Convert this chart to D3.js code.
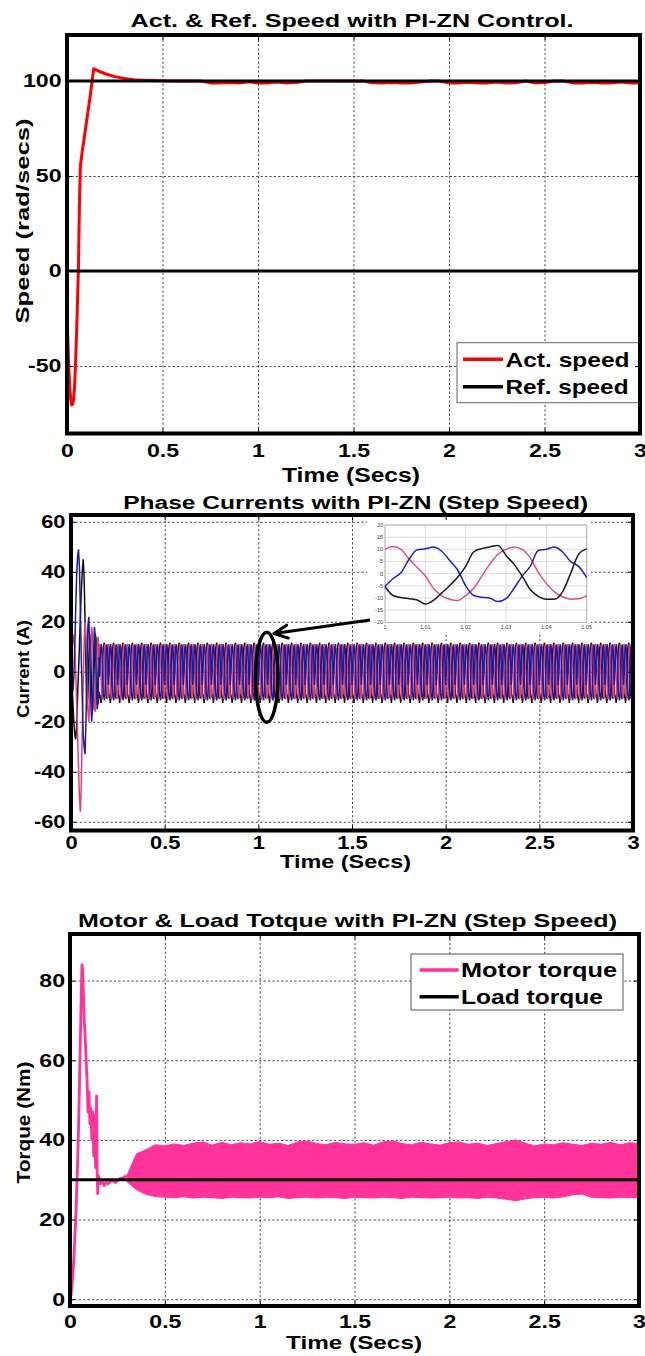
<!DOCTYPE html>
<html><head><meta charset="utf-8">
<script src="https://cdn.jsdelivr.net/npm/d3@7"></script>
<style>
body{margin:0;background:#fff}
svg{display:block}
text{font-family:"Liberation Sans",Arial,Helvetica,sans-serif}
</style>
</head><body>
<svg id="c" width="645" height="1356"></svg>
<script>
// ---------------- DATA ----------------
const timeTicks = [0, 0.5, 1, 1.5, 2, 2.5, 3];
const timeTickLabels = ['0', '0.5', '1', '1.5', '2', '2.5', '3'];

const speedTicks = [-50, 0, 50, 100];
const speedTickLabels = ['-50', '0', '50', '100'];
const currentTicks = [-60, -40, -20, 0, 20, 40, 60];
const currentTickLabels = ['-60', '-40', '-20', '0', '20', '40', '60'];
const torqueTicks = [0, 20, 40, 60, 80];
const torqueTickLabels = ['0', '20', '40', '60', '80'];

// Panel 1: speed
const actSpeedT = [0,0.005,0.01,0.015,0.02,0.025,0.03,0.035,0.04,0.045,0.05,0.055,0.06,0.065,0.07,
  0.08,0.09,0.1,0.11,0.12,0.13,0.14,0.15,
  0.17,0.2,0.25,0.3,0.35,0.4,0.45,0.5,0.55,
  0.6,0.65,0.7,0.75,0.8,0.85,0.9,0.95,1.0,1.05,1.1,1.15,1.2,1.25,1.3,1.35,1.4,1.45,1.5,1.55,
  1.6,1.65,1.7,1.75,1.8,1.85,1.9,1.95,2.0,2.05,2.1,2.15,2.2,2.25,2.3,2.35,2.4,2.45,2.5,2.55,
  2.6,2.65,2.7,2.75,2.8,2.85,2.9,2.95,3.0];
const actSpeedV = [-22,-38,-52,-62,-68,-70.5,-70,-67,-60,-48,-33,-16,2,35,55,
  63,70,77,84,91,99,106.5,106,
  105,103.8,102.3,101.3,100.7,100.4,100.2,100.1,100,
  100,100,100,99,98.9,99.2,98.9,99.6,98.9,99,99.5,98.9,99.2,100,100,100,100,100,100,100,
  99.1,98.9,99.2,98.9,99,99.4,100,100,99,98.9,99.3,98.9,99,99.4,98.9,99.1,100,99,99.2,100,
  100,99,98.9,99.3,98.9,99,99.4,98.9,99];
const refSpeedLevels = [100, 0];
const speedLegend = ['Act. speed', 'Ref. speed'];

// Panel 2: phase currents (transient part, 0 .. 0.15 s)
const currTransT = [0,0.005,0.01,0.015,0.02,0.025,0.03,0.035,0.04,0.045,0.05,0.055,0.06,0.065,0.07,0.075,
  0.08,0.085,0.09,0.095,0.1,0.105,0.11,0.115,0.12,0.125,0.13,0.135,0.14,0.145,0.15];
const iaTrans = [0,6,12,15,10,0,-12,-25,-38,-50,-56,-45,-25,-5,12,20,15,0,-15,-20,-12,5,18,15,0,-15,-16,-2,12,14,0];
const ibTrans = [0,-4,-8,-2,10,25,38,46,49,42,25,5,-10,-25,-30,-33,-20,0,18,22,10,-10,-20,-15,5,18,14,-6,-15,-11,6];
const icTrans = [0,-5,-12,-20,-25,-27,-22,-10,0,10,22,32,40,45,38,20,0,-15,-10,5,15,10,-8,-15,-10,5,15,12,-5,-13,-8];

// Steady-state window (1.00 .. 1.05 s)
const insetT = [1.000,1.002,1.004,1.006,1.008,1.010,1.012,1.014,1.016,1.018,1.020,1.022,1.024,1.026,
  1.028,1.030,1.032,1.034,1.036,1.038,1.040,1.042,1.044,1.046,1.048,1.050];
const iaInset = [10,11.2,10,6,2.5,-1,-6,-9,-10.5,-11,-9,-6,-1,4,8,10,11,10,6.5,0.5,-4,-7.5,-9.5,-10.5,-10.3,-9];
const ibInset = [-5.3,-2,0.5,6,9.8,10.2,11,9.3,5.5,1.5,-5,-9,-9.7,-10.1,-11.5,-10.3,-6,-1,3,9.5,10,11,9,5,3,-1.6];
const icInset = [-5.3,-9,-9.8,-10.3,-10.8,-12.5,-11,-8,-5,-1.5,3,9,10.3,11,11.6,7.5,3.8,-1,-6.5,-9.3,-10.5,-10.5,-7.5,0,8,10.2];
const insetTimeTicks = [1, 1.01, 1.02, 1.03, 1.04, 1.05];
const insetTimeLabels = ['1', '1.01', '1.02', '1.03', '1.04', '1.05'];
const insetCurrentTicks = [-20,-15,-10,-5,0,5,10,15,20];
const insetCurrentLabels = ['-20','-15','-10','-5','0','5','10','15','20'];
// annotation (ellipse around t~1.05 s, arrow to inset) in data units
const markT = 1.045, markV = -2.2, markDT = 0.06, markDV = 18;
const arrowFrom = [1.596, 20.7], arrowTo = [1.084, 15.3];

// Panel 3: torque
const motorT = [0,0.005,0.01,0.015,0.02,0.025,0.03,0.035,0.04,0.045,0.05,0.055,0.06,0.063,0.066,0.07,0.075,0.08,0.085,0.09,
  0.095,0.1,0.105,0.11,0.115,0.12,0.125,0.13,0.135,0.14,0.143,0.146,0.15,0.16,0.17,0.18,0.19,0.2,0.22,0.24,0.26,0.28,0.3];
const motorV = [0,1,3,6,10,15,20,27,34,43,54,66,78,84,83,78,70,66,60,55,
  47,52,44,48,40,47,36,46,33,51,32,26.5,31,29,29.5,28.5,29.5,29,29.8,29.3,30.2,30.5,31];
const bandT = [0.3,0.35,0.4,0.45,0.5,0.55,0.6,0.65,0.7,0.75,0.8,0.85,0.9,0.95,1.0,1.05,1.1,1.15,1.2,1.25,
  1.3,1.35,1.4,1.45,1.5,1.55,1.6,1.65,1.7,1.75,1.8,1.85,1.9,1.95,2.0,2.05,2.1,2.15,2.2,2.25,
  2.3,2.35,2.4,2.45,2.5,2.55,2.6,2.65,2.7,2.75,2.8,2.85,2.9,2.95,3.0];
const bandUpper = [31,36.5,37.5,38.8,38.5,39,38.6,39.2,39.5,38.7,39.4,38.8,39.3,39,39.6,38.9,39.2,38.6,39.5,39.7,
  39.1,38.8,39.4,39,38.9,39.3,38.7,39.5,39.8,39.1,38.8,39.4,39,38.7,39.3,39.5,38.9,39.2,38.6,39.1,
  39.6,40,39.2,38.5,39,38.8,39.3,38.9,38.6,39.2,38.9,39.4,38.8,39.3,39.1];
const bandLower = [29.5,27.5,26.3,25.8,25.6,25.5,25.7,25.4,25.6,25.5,25.3,25.6,25.5,25.4,25.6,25.5,25.7,25.3,25.5,25.6,
  25.4,25.6,25.5,25.3,25.6,25.5,25.4,25.6,25.5,25.3,25.6,25.5,25.4,25.5,25.6,25.4,25.5,25.3,25.6,25.4,
  25.1,24.7,25.2,25.5,25.6,25.4,25.7,26.2,26.4,25.6,25.5,25.4,25.6,25.5,25.5];
const loadTorque = 30;
const torqueLegend = ['Motor torque', 'Load torque'];

const titles = ['Act. & Ref. Speed with PI-ZN Control.', 'Phase Currents with PI-ZN (Step Speed)', 'Motor & Load Totque with PI-ZN (Step Speed)'];
const yTitles = ['Speed (rad/secs)', 'Current (A)', 'Torque (Nm)'];
const xTitle = 'Time (Secs)';

// ---------------- DRAWING ----------------
const svg = d3.select('#c');

function addText(parent, o) {
  const t = parent.append('text')
    .attr('x', o.x).attr('y', o.y)
    .attr('font-size', o.size)
    .attr('text-anchor', o.anchor || 'middle')
    .attr('font-weight', o.weight || 'bold')
    .attr('fill', o.fill || '#000')
    .text(o.text);
  if (o.rotate) t.attr('transform', `rotate(-90 ${o.x} ${o.y})`);
  const L = t.node().getComputedTextLength();
  const target = o.width != null ? o.width : (o.k ? L * o.k : null);
  if (target) t.attr('textLength', target).attr('lengthAdjust', 'spacingAndGlyphs');
  return t;
}

function makePanel(c) {
  const x = d3.scaleLinear().domain([0, 3]).range([c.x0, c.x1]);
  const y = d3.scaleLinear().domain(c.yDomain).range([c.y1, c.y0]);
  const g = svg.append('g');
  const h = c.y1 - c.y0, w = c.x1 - c.x0;
  const gx = g.append('g').attr('transform', `translate(0,${c.y1})`)
    .call(d3.axisBottom(x).tickValues(timeTicks.filter(d => d > 0 && d < 3)).tickSize(-h).tickFormat(''));
  const gy = g.append('g').attr('transform', `translate(${c.x0},0)`)
    .call(d3.axisLeft(y).tickValues(c.yTicks).tickSize(-w).tickFormat(''));
  [gx, gy].forEach(a => {
    a.select('.domain').remove();
    a.selectAll('line').attr('stroke', '#333').attr('stroke-width', 0.9).attr('stroke-dasharray', '2.2,2.2');
  });
  const data = g.append('g');
  return { x, y, g, data, c };
}

function finishPanel(P) {
  const { x, y, g, c } = P;
  const t = g.append('g');
  t.append('g').attr('transform', `translate(0,${c.y1})`).call(d3.axisBottom(x).tickValues(timeTicks).tickSize(-5).tickFormat(''));
  t.append('g').attr('transform', `translate(0,${c.y0})`).call(d3.axisTop(x).tickValues(timeTicks).tickSize(-5).tickFormat(''));
  t.append('g').attr('transform', `translate(${c.x0},0)`).call(d3.axisLeft(y).tickValues(c.yTicks).tickSize(-5).tickFormat(''));
  t.append('g').attr('transform', `translate(${c.x1},0)`).call(d3.axisRight(y).tickValues(c.yTicks).tickSize(-5).tickFormat(''));
  t.selectAll('.domain').remove();
  t.selectAll('line').attr('stroke', '#000').attr('stroke-width', 1);

  g.append('rect').attr('x', c.x0).attr('y', c.y0).attr('width', c.x1 - c.x0).attr('height', c.y1 - c.y0)
    .attr('fill', 'none').attr('stroke', '#000').attr('stroke-width', 4);

  const xl = g.append('g').attr('transform', `translate(0,${c.y1})`)
    .call(d3.axisBottom(x).tickValues(timeTicks).tickFormat(d => timeTickLabels[timeTicks.indexOf(d)]).tickSize(0).tickPadding(c.xPad));
  const yl = g.append('g').attr('transform', `translate(${c.x0},0)`)
    .call(d3.axisLeft(y).tickValues(c.yTicks).tickFormat(d => c.yLabels[c.yTicks.indexOf(d)]).tickSize(0).tickPadding(c.yPad));
  [xl, yl].forEach(a => {
    a.select('.domain').remove();
    a.selectAll('text').attr('font-size', c.tickFont).attr('font-weight', 'bold')
      .attr('font-family', '"Liberation Sans",Arial,sans-serif').attr('fill', '#000')
      .each(function () {
        const L = this.getComputedTextLength();
        d3.select(this).attr('textLength', L * 1.25).attr('lengthAdjust', 'spacingAndGlyphs');
      });
  });
  addText(svg, { x: c.title.x, y: c.title.y, text: c.title.text, size: c.title.size, width: c.title.w });
  addText(svg, { x: c.xt.x, y: c.xt.y, text: xTitle, size: c.xt.size, width: c.xt.w });
  addText(svg, { x: c.yt.x, y: c.yt.y, text: c.yt.text, size: c.yt.size, width: c.yt.w, rotate: true });
}

// ===== Panel 1 =====
const P1 = makePanel({
  x0: 67, x1: 640, y0: 35, y1: 433.5, yDomain: [-85.5, 124.2], yTicks: speedTicks, yLabels: speedTickLabels,
  xPad: 10, yPad: 5.5, tickFont: 18.5,
  title: { x: 352, y: 26.5, text: titles[0], size: 17.5, w: 443 },
  xt: { x: 351, y: 482.3, size: 20, w: 138 },
  yt: { x: 29, y: 221, text: yTitles[0], size: 19, w: 205 }
});
{
  const { x, y, data } = P1;
  const pts = actSpeedT.map((t, i) => [t, actSpeedV[i]]);
  data.append('path').datum(pts)
    .attr('d', d3.line().x(d => x(d[0])).y(d => y(d[1])))
    .attr('fill', 'none').attr('stroke', '#ff0000').attr('stroke-width', 3).attr('stroke-linejoin', 'round');
  data.selectAll('line.ref').data(refSpeedLevels).join('line').attr('class', 'ref')
    .attr('x1', x(0)).attr('x2', x(3)).attr('y1', d => y(d)).attr('y2', d => y(d))
    .attr('stroke', '#000').attr('stroke-width', 3);
  const lg = data.append('g');
  lg.append('rect').attr('x', 457).attr('y', 342.7).attr('width', 183).attr('height', 60)
    .attr('fill', '#fff').attr('stroke', '#666').attr('stroke-width', 1);
  const cols = ['#ff0000', '#000'];
  speedLegend.forEach((s, i) => {
    const yy = 359.3 + i * 27.4;
    lg.append('line').attr('x1', 463).attr('x2', 503).attr('y1', yy).attr('y2', yy)
      .attr('stroke', cols[i]).attr('stroke-width', 3.5);
    addText(lg, { x: 505.5, y: yy + 7.3, text: s, size: 21, anchor: 'start', width: i === 0 ? 124 : 123 });
  });
}
finishPanel(P1);

// ===== Panel 2 =====
const P2 = makePanel({
  x0: 71, x1: 633, y0: 515, y1: 830.5, yDomain: [-63.5, 62.7], yTicks: currentTicks, yLabels: currentTickLabels,
  xPad: 6, yPad: 5.5, tickFont: 17.5,
  title: { x: 355.7, y: 509, text: titles[1], size: 17.5, w: 465 },
  xt: { x: 345.5, y: 868.3, size: 17.5, w: 131 },
  yt: { x: 29, y: 669, text: yTitles[1], size: 17, w: 98 }
});
{
  const { x, y, data } = P2;
  function buildPhase(transV, insetV) {
    const pts = currTransT.map((t, i) => [t, transV[i]]);
    const nWin = Math.ceil((3 - 0.15) / 0.05);
    for (let k = 0; k < nWin; k++) {
      for (let i = 0; i < insetT.length - 1; i++) {
        const tt = 0.15 + k * 0.05 + (insetT[i] - 1.0);
        if (tt > 0.15 && tt <= 3.0) pts.push([tt, insetV[i]]);
      }
    }
    return pts;
  }
  const line = d3.line().x(d => x(d[0])).y(d => y(d[1]));
  const phases = [
    { v: icTrans, inset: icInset, col: '#111111' },
    { v: iaTrans, inset: iaInset, col: '#e0407a' },
    { v: ibTrans, inset: ibInset, col: '#1c1c9a' }
  ];
  phases.forEach(p => {
    data.append('path').datum(buildPhase(p.v, p.inset)).attr('d', line)
      .attr('fill', 'none').attr('stroke', p.col).attr('stroke-width', 1.5);
  });

  // inset
  const ix = d3.scaleLinear().domain([1.0, 1.05]).range([385, 586.7]);
  const iy = d3.scaleLinear().domain([-20, 20]).range([622.3, 525]);
  const ig = data.append('g');
  ig.append('rect').attr('x', 367).attr('y', 516).attr('width', 224).attr('height', 116).attr('fill', '#fff');
  ig.selectAll('line.vx').data(insetTimeTicks).join('line').attr('class', 'vx')
    .attr('x1', d => ix(d)).attr('x2', d => ix(d)).attr('y1', iy(20)).attr('y2', iy(-20))
    .attr('stroke', '#d4d4d4').attr('stroke-width', 0.8);
  ig.selectAll('line.hy').data(insetCurrentTicks).join('line').attr('class', 'hy')
    .attr('x1', ix(1.0)).attr('x2', ix(1.05)).attr('y1', d => iy(d)).attr('y2', d => iy(d))
    .attr('stroke', '#d4d4d4').attr('stroke-width', 0.8);
  ig.append('rect').attr('x', ix(1.0)).attr('y', iy(20)).attr('width', ix(1.05) - ix(1.0)).attr('height', iy(-20) - iy(20))
    .attr('fill', 'none').attr('stroke', '#aaa').attr('stroke-width', 0.8);
  const il = d3.line().x(d => ix(d[0])).y(d => iy(d[1])).curve(d3.curveMonotoneX);
  [{ v: iaInset, col: '#e0507e' }, { v: ibInset, col: '#2020c8' }, { v: icInset, col: '#1a1a1a' }].forEach(p => {
    ig.append('path').datum(insetT.map((t, i) => [t, p.v[i]])).attr('d', il)
      .attr('fill', 'none').attr('stroke', p.col).attr('stroke-width', 1.5);
  });
  ig.selectAll('text.itx').data(insetTimeTicks).join('text').attr('class', 'itx')
    .attr('x', d => ix(d)).attr('y', iy(-20) + 7).attr('text-anchor', 'middle')
    .attr('font-size', 5.5).attr('fill', '#444').text((d, i) => insetTimeLabels[i]);
  ig.selectAll('text.ity').data(insetCurrentTicks).join('text').attr('class', 'ity')
    .attr('x', ix(1.0) - 2).attr('y', d => iy(d) + 2).attr('text-anchor', 'end')
    .attr('font-size', 5.5).attr('fill', '#444').text((d, i) => insetCurrentLabels[i]);

  data.append('ellipse').attr('cx', x(markT)).attr('cy', y(markV))
    .attr('rx', x(markDT) - x(0)).attr('ry', y(0) - y(markDV))
    .attr('fill', 'none').attr('stroke', '#000').attr('stroke-width', 3.5);
  const ax0 = x(arrowFrom[0]), ay0 = y(arrowFrom[1]), ax1 = x(arrowTo[0]), ay1 = y(arrowTo[1]);
  data.append('line').attr('x1', ax0).attr('y1', ay0).attr('x2', ax1).attr('y2', ay1)
    .attr('stroke', '#000').attr('stroke-width', 3);
  const ang = Math.atan2(ay0 - ay1, ax0 - ax1);
  [-0.45, 0.45].forEach(da => {
    data.append('line').attr('x1', ax1).attr('y1', ay1)
      .attr('x2', ax1 + 15 * Math.cos(ang + da)).attr('y2', ay1 + 15 * Math.sin(ang + da))
      .attr('stroke', '#000').attr('stroke-width', 3).attr('stroke-linecap', 'round');
  });
}
finishPanel(P2);

// ===== Panel 3 =====
const P3 = makePanel({
  x0: 70, x1: 639, y0: 934, y1: 1306, yDomain: [-1.7, 91.7], yTicks: torqueTicks, yLabels: torqueTickLabels,
  xPad: 9, yPad: 5, tickFont: 18.5,
  title: { x: 347.5, y: 926.5, text: titles[2], size: 19, w: 539 },
  xt: { x: 354, y: 1349, size: 18.5, w: 136 },
  yt: { x: 30, y: 1122.5, text: yTitles[2], size: 19, w: 122 }
});
{
  const { x, y, data } = P3;
  const pink = '#ff3399';
  data.append('path').datum(bandT.map((t, i) => [t, bandLower[i], bandUpper[i]]))
    .attr('d', d3.area().x(d => x(d[0])).y0(d => y(d[1])).y1(d => y(d[2])))
    .attr('fill', pink).attr('stroke', pink).attr('stroke-width', 1);
  data.append('path').datum(motorT.map((t, i) => [t, motorV[i]]))
    .attr('d', d3.line().x(d => x(d[0])).y(d => y(d[1])))
    .attr('fill', 'none').attr('stroke', pink).attr('stroke-width', 2.8).attr('stroke-linejoin', 'round');
  data.append('line').attr('x1', x(0)).attr('x2', x(3)).attr('y1', y(loadTorque)).attr('y2', y(loadTorque))
    .attr('stroke', '#000').attr('stroke-width', 3);
  const lg = data.append('g');
  lg.append('rect').attr('x', 411).attr('y', 954).attr('width', 212).attr('height', 56)
    .attr('fill', '#fff').attr('stroke', '#555').attr('stroke-width', 1);
  const cols = [pink, '#000'];
  torqueLegend.forEach((s, i) => {
    const yy = 970 + i * 26.7;
    lg.append('line').attr('x1', 419.6).attr('x2', 458.7).attr('y1', yy).attr('y2', yy)
      .attr('stroke', cols[i]).attr('stroke-width', 3.5);
    addText(lg, { x: 461, y: yy + 7, text: s, size: 20, anchor: 'start', width: i === 0 ? 156 : 142 });
  });
}
finishPanel(P3);
</script>
</body></html>
